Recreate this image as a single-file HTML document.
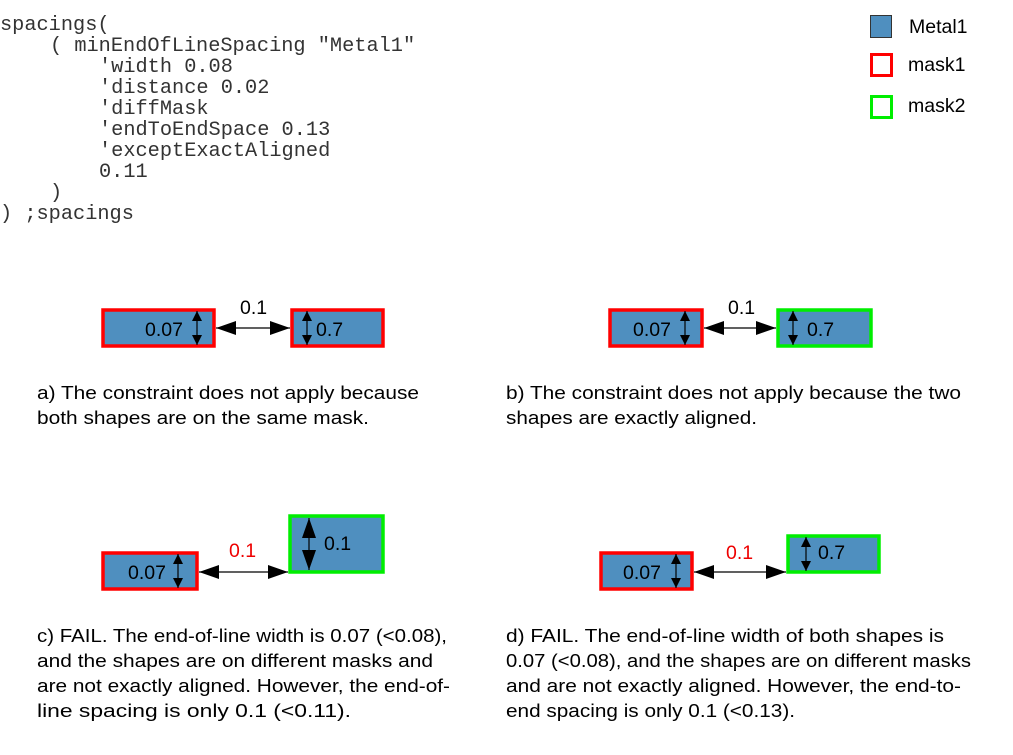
<!DOCTYPE html>
<html><head><meta charset="utf-8"><style>
html,body{margin:0;padding:0;background:#fff;width:1013px;height:755px;overflow:hidden}
svg{display:block}
.code{font-family:"Liberation Mono",monospace;font-size:20.3px;fill:#333}
.s{font-family:"Liberation Sans",sans-serif;font-size:18.5px;fill:#000}
.l{font-family:"Liberation Sans",sans-serif;font-size:19.5px;fill:#000}
.r{fill:#ee0000}
</style></head><body>
<svg width="1013" height="755" viewBox="0 0 1013 755" xmlns="http://www.w3.org/2000/svg">
<defs>
<marker id="ah" viewBox="0 0 10 10" refX="10" refY="5" markerWidth="10" markerHeight="10" markerUnits="userSpaceOnUse" orient="auto-start-reverse"><path d="M0,0 L10,5 L0,10 z" fill="#000"/></marker>
<marker id="big" viewBox="0 0 20 14" refX="20" refY="7" markerWidth="20" markerHeight="14" markerUnits="userSpaceOnUse" orient="auto-start-reverse"><path d="M0,0 L20,7 L0,14 z" fill="#000"/></marker>
</defs>
<g class="code">
<text x="0" y="30">spacings(</text>
<text x="50" y="51">( minEndOfLineSpacing "Metal1"</text>
<text x="99" y="72">'width 0.08</text>
<text x="99" y="93">'distance 0.02</text>
<text x="99" y="114">'diffMask</text>
<text x="99" y="135">'endToEndSpace 0.13</text>
<text x="99" y="156">'exceptExactAligned</text>
<text x="99" y="177">0.11</text>
<text x="50" y="198">)</text>
<text x="0" y="219">) ;spacings</text>
</g>
<rect x="870.5" y="15.5" width="21" height="22" fill="#4f8fbf" stroke="#333" stroke-width="1"/>
<text class="l" x="909" y="33">Metal1</text>
<rect x="871.5" y="54.5" width="20" height="21" fill="#fff" stroke="#ff0000" stroke-width="3"/>
<text class="l" x="908" y="71">mask1</text>
<rect x="871.5" y="96.5" width="20" height="21" fill="#fff" stroke="#00ee00" stroke-width="3"/>
<text class="l" x="908" y="112">mask2</text>

<g stroke-width="3.5">
<rect x="103" y="310" width="111" height="36" fill="#4f8fbf" stroke="#ff0000"/>
<rect x="292" y="310" width="91" height="36" fill="#4f8fbf" stroke="#ff0000"/>
<rect x="610" y="310" width="92" height="36" fill="#4f8fbf" stroke="#ff0000"/>
<rect x="778" y="310" width="93" height="36" fill="#4f8fbf" stroke="#00ee00"/>
<rect x="103" y="553" width="94" height="36" fill="#4f8fbf" stroke="#ff0000"/>
<rect x="290" y="516" width="93" height="56" fill="#4f8fbf" stroke="#00ee00"/>
<rect x="601" y="553" width="91" height="36" fill="#4f8fbf" stroke="#ff0000"/>
<rect x="788" y="536" width="91" height="36" fill="#4f8fbf" stroke="#00ee00"/>
</g>
<g stroke="#000" stroke-width="1.2" fill="none">
<line x1="216" y1="328" x2="290" y2="328" marker-start="url(#big)" marker-end="url(#big)"/>
<line x1="704" y1="328" x2="776" y2="328" marker-start="url(#big)" marker-end="url(#big)"/>
<line x1="199" y1="572" x2="288" y2="572" marker-start="url(#big)" marker-end="url(#big)"/>
<line x1="694" y1="572" x2="786" y2="572" marker-start="url(#big)" marker-end="url(#big)"/>
<line x1="197" y1="311" x2="197" y2="345" marker-start="url(#ah)" marker-end="url(#ah)"/>
<line x1="307" y1="311" x2="307" y2="345" marker-start="url(#ah)" marker-end="url(#ah)"/>
<line x1="685" y1="311" x2="685" y2="345" marker-start="url(#ah)" marker-end="url(#ah)"/>
<line x1="793" y1="311" x2="793" y2="345" marker-start="url(#ah)" marker-end="url(#ah)"/>
<line x1="178" y1="554" x2="178" y2="588" marker-start="url(#ah)" marker-end="url(#ah)"/>
<line x1="676" y1="554" x2="676" y2="588" marker-start="url(#ah)" marker-end="url(#ah)"/>
<line x1="309" y1="518" x2="309" y2="570" marker-start="url(#big)" marker-end="url(#big)"/>
<line x1="806" y1="537" x2="806" y2="571" marker-start="url(#ah)" marker-end="url(#ah)"/>
</g>
<g class="l">
<text x="145" y="336">0.07</text><text x="316" y="336">0.7</text><text x="240" y="314">0.1</text>
<text x="633" y="336">0.07</text><text x="807" y="336">0.7</text><text x="728" y="314">0.1</text>
<text x="128" y="579">0.07</text><text x="324" y="550">0.1</text><text class="l r" x="229" y="557">0.1</text>
<text x="623" y="579">0.07</text><text x="818" y="559">0.7</text><text class="l r" x="726" y="559">0.1</text>
</g>
<g class="s">
<text x="37" y="399" textLength="382" lengthAdjust="spacingAndGlyphs">a) The constraint does not apply because</text>
<text x="37" y="424" textLength="332" lengthAdjust="spacingAndGlyphs">both shapes are on the same mask.</text>
<text x="506" y="399" textLength="455" lengthAdjust="spacingAndGlyphs">b) The constraint does not apply because the two</text>
<text x="506" y="424" textLength="251" lengthAdjust="spacingAndGlyphs">shapes are exactly aligned.</text>
<text x="37" y="642" textLength="410" lengthAdjust="spacingAndGlyphs">c) FAIL. The end-of-line width is 0.07 (&lt;0.08),</text>
<text x="37" y="667" textLength="396" lengthAdjust="spacingAndGlyphs">and the shapes are on different masks and</text>
<text x="37" y="692" textLength="413" lengthAdjust="spacingAndGlyphs">are not exactly aligned. However, the end-of-</text>
<text x="37" y="717" textLength="314" lengthAdjust="spacingAndGlyphs">line spacing is only 0.1 (&lt;0.11).</text>
<text x="506" y="642" textLength="438" lengthAdjust="spacingAndGlyphs">d) FAIL. The end-of-line width of both shapes is</text>
<text x="506" y="667" textLength="465" lengthAdjust="spacingAndGlyphs">0.07 (&lt;0.08), and the shapes are on different masks</text>
<text x="506" y="692" textLength="455" lengthAdjust="spacingAndGlyphs">and are not exactly aligned. However, the end-to-</text>
<text x="506" y="717" textLength="289" lengthAdjust="spacingAndGlyphs">end spacing is only 0.1 (&lt;0.13).</text>
</g>
</svg>
</body></html>
